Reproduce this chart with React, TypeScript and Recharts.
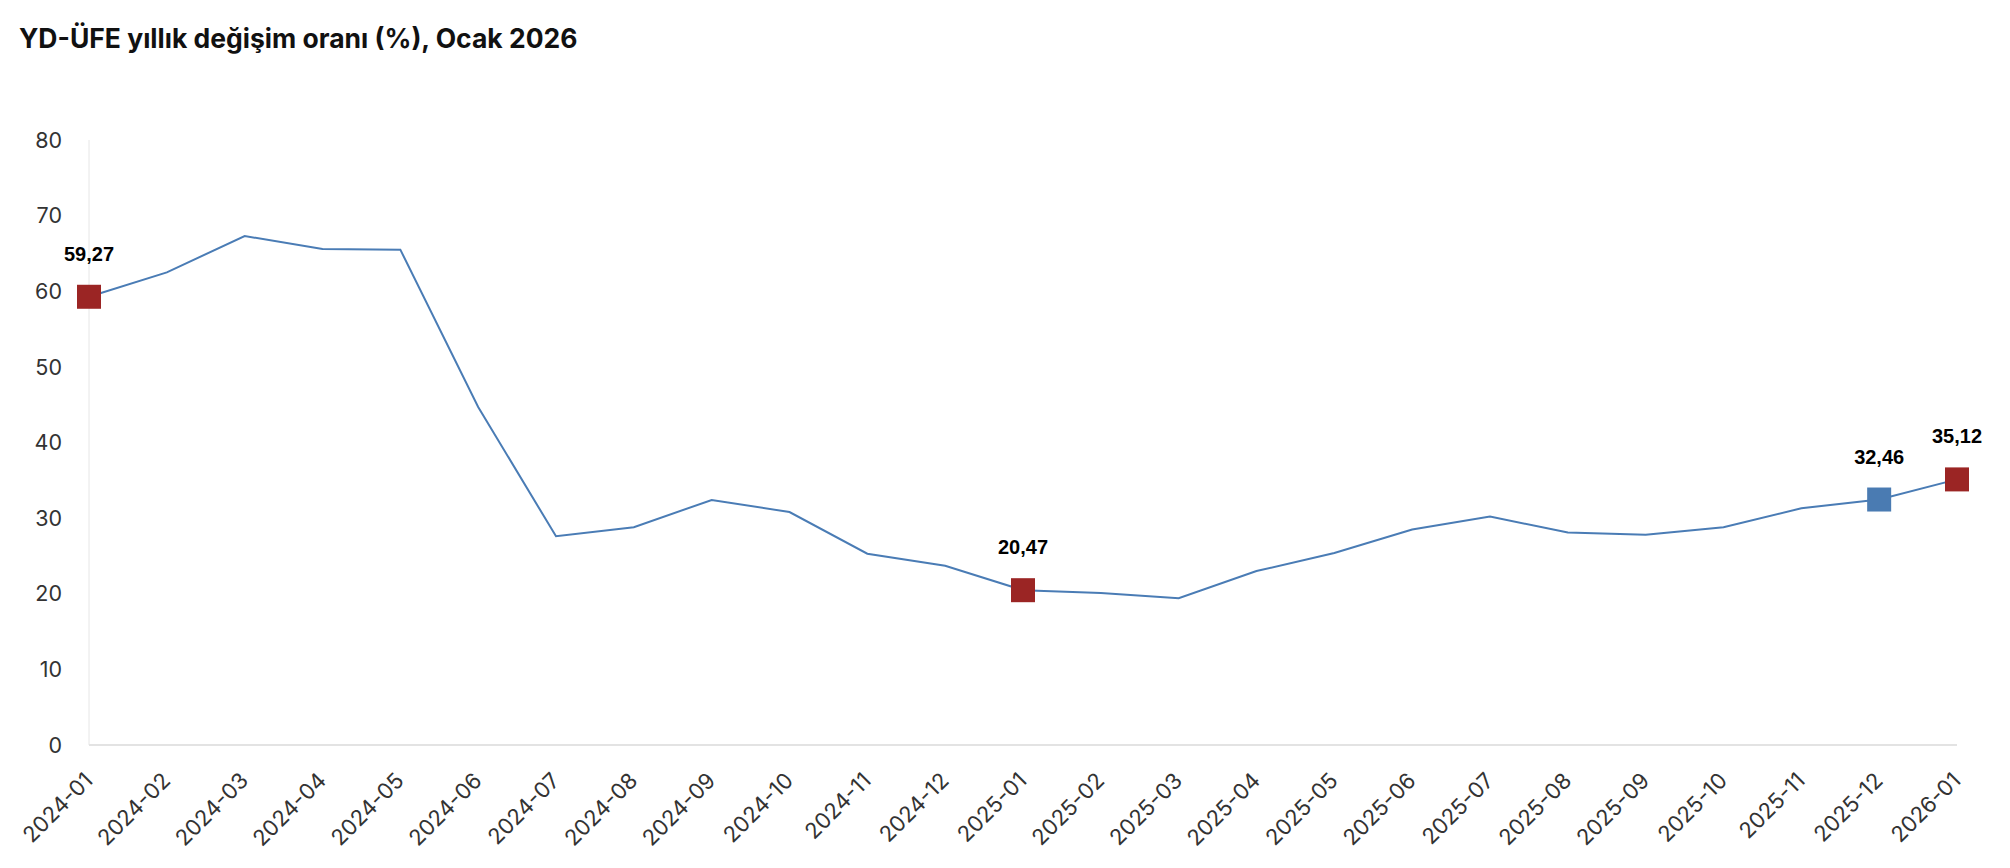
import { LineChart, Line, XAxis, YAxis, LabelList } from "recharts";

const months = [
  "2024-01", "2024-02", "2024-03", "2024-04", "2024-05", "2024-06", "2024-07",
  "2024-08", "2024-09", "2024-10", "2024-11", "2024-12", "2025-01", "2025-02",
  "2025-03", "2025-04", "2025-05", "2025-06", "2025-07", "2025-08", "2025-09",
  "2025-10", "2025-11", "2025-12", "2026-01"
];

const rates = [
  59.27, 62.5, 67.3, 65.6, 65.5, 44.7, 27.6, 28.8, 32.4, 30.8, 25.3, 23.7,
  20.47, 20.1, 19.4, 23.0, 25.4, 28.5, 30.2, 28.1, 27.8, 28.8, 31.3, 32.46, 35.12
];

const yTicks = [0, 10, 20, 30, 40, 50, 60, 70, 80];

// highlighted points: index -> marker colour
const highlights: Record<number, string> = {
  0: "#9B2524",
  12: "#9B2524",
  23: "#4A7BB2",
  24: "#9B2524"
};

const data = months.map((m, i) => ({ month: m, value: rates[i] }));

const fmt = (v: number) => v.toFixed(2).replace(".", ",");

function MonthTick(props: any) {
  const { x, y, payload } = props;
  const tx = x + 5;
  const ty = y + 37;
  return (
    <text
      x={tx}
      y={ty}
      transform={`rotate(-45, ${tx}, ${ty})`}
      textAnchor="end"
      fill="#333"
      fontSize={22}
      fontFamily="Inter"
    >
      {payload.value}
    </text>
  );
}

function SquareDot(props: any) {
  const { cx, cy, index } = props;
  const c = highlights[index];
  if (!c) return <g key={`d${index}`} />;
  return <rect key={`d${index}`} x={cx - 12} y={cy - 12} width={24} height={24} fill={c} />;
}

function PointLabel(props: any) {
  const { x, y, index, value } = props;
  if (!highlights[index]) return null;
  return (
    <text
      x={x}
      y={y - 43}
      textAnchor="middle"
      dominantBaseline="central"
      fill="#000"
      fontSize={20}
      fontWeight="bold"
      fontFamily="Liberation Sans"
    >
      {fmt(value)}
    </text>
  );
}

export default function App() {
  return (
    <div style={{ position: "relative", width: 2010, height: 868, background: "#fff" }}>
      <style>{`body{margin:0}`}</style>
      <div
        style={{
          position: "absolute",
          left: 19,
          top: 22,
          fontFamily: "Inter",
          fontWeight: 700,
          fontSize: 26.5,
          color: "#111",
          lineHeight: "32px"
        }}
      >
        YD-ÜFE yıllık değişim oranı (%), Ocak 2026
      </div>
      <LineChart
        width={2010}
        height={868}
        data={data}
        margin={{ top: 140, right: 53, bottom: 0, left: 0 }}
      >
        <XAxis
          dataKey="month"
          interval={0}
          height={123}
          tickLine={false}
          tickSize={0}
          tickMargin={0}
          axisLine={{ stroke: "#e3e3e3", strokeWidth: 2 }}
          tick={<MonthTick />}
        />
        <YAxis
          domain={[0, 80]}
          ticks={yTicks}
          width={89}
          tickLine={false}
          tickSize={0}
          tickMargin={27}
          axisLine={{ stroke: "#e6e6e6", strokeWidth: 1 }}
          tick={{ fill: "#333", fontSize: 21.5, fontFamily: "Inter" }}
        />
        <Line
          type="linear"
          dataKey="value"
          stroke="#4A7CB5"
          strokeWidth={2}
          dot={SquareDot}
          activeDot={false}
          isAnimationActive={false}
        >
          <LabelList dataKey="value" content={PointLabel} />
        </Line>
      </LineChart>
    </div>
  );
}
